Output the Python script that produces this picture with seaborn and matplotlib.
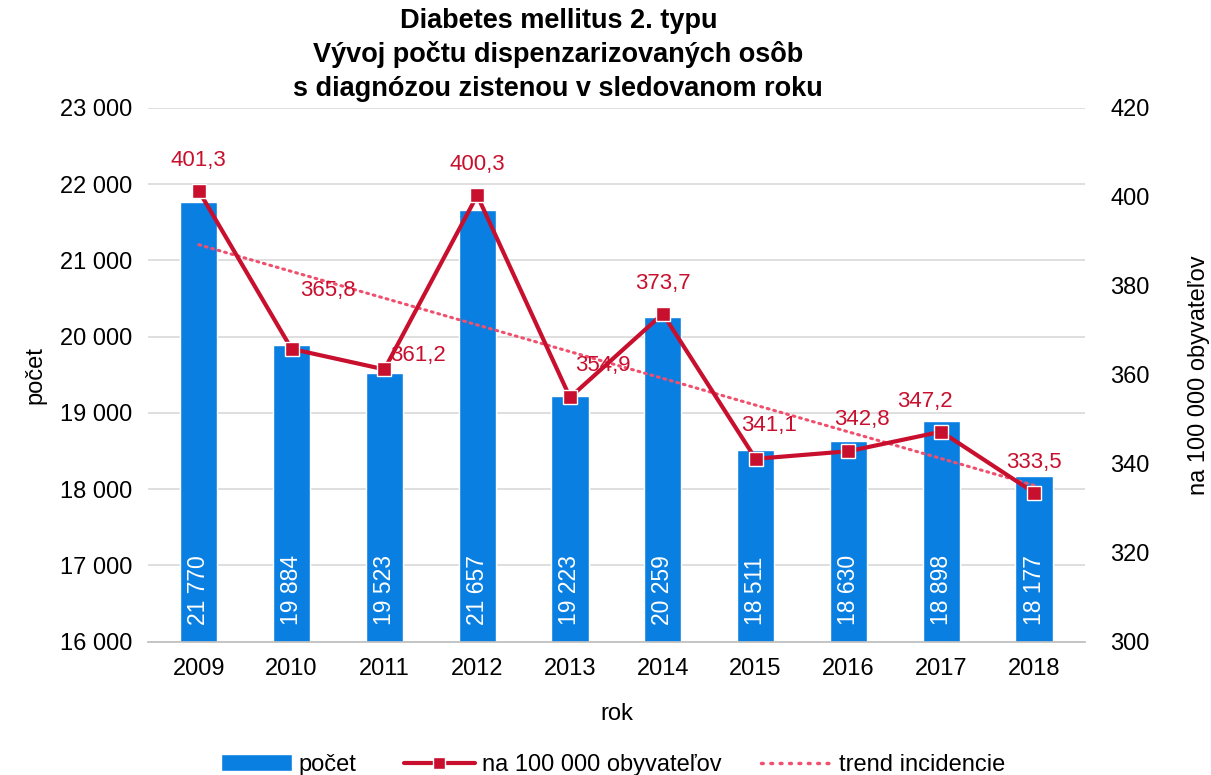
import numpy as np
import pandas as pd
import matplotlib
matplotlib.use("Agg")
import matplotlib.pyplot as plt
import seaborn as sns
from matplotlib.lines import Line2D
from matplotlib.patches import Patch

roky = ["2009", "2010", "2011", "2012", "2013", "2014", "2015", "2016", "2017", "2018"]
pocet = [21770, 19884, 19523, 21657, 19223, 20259, 18511, 18630, 18898, 18177]
incidencia = [401.3, 365.8, 361.2, 400.3, 354.9, 373.7, 341.1, 342.8, 347.2, 333.5]
# posun popiskov incidencie (body)
lbl_dx = [0, 26, 24, 0, 24, 0, 10, 10, -12, 0]
lbl_dy = [22, 42, 10, 22, 23, 22, 24, 23, 22, 22]

sns.set_theme(style="white")
plt.rcParams['font.family'] = ['Liberation Sans', 'DejaVu Sans']
plt.rcParams['text.color'] = 'black'
plt.rcParams['axes.labelcolor'] = 'black'
plt.rcParams['xtick.color'] = 'black'
plt.rcParams['ytick.color'] = 'black'

modra = "#0A7FE2"
cervena = "#C8102E"
ruzova = "#F0506E"
fs = 17

df = pd.DataFrame({"rok": roky, "pocet": pocet, "inc": incidencia})

fig, ax = plt.subplots(figsize=(12.11, 7.75), dpi=100)
fig.subplots_adjust(left=0.122, right=0.896, top=0.861, bottom=0.172)

sns.barplot(data=df, x="rok", y="pocet", color=modra, saturation=1, width=0.40, ax=ax, zorder=2)
ax.set_ylim(16000, 23000)
ax.set_yticks(range(16000, 23001, 1000))
ax.set_yticklabels([f"{v:,}".replace(",", " ") for v in range(16000, 23001, 1000)])
ax.yaxis.grid(True, color="#D9D9D9", lw=1.2, zorder=0)
ax.set_axisbelow(True)
for s in ["top", "right", "left"]:
    ax.spines[s].set_visible(False)
ax.spines["bottom"].set_color("#BFBFBF")
ax.tick_params(axis="both", labelsize=fs, length=0)
ax.tick_params(axis="y", pad=11)
ax.tick_params(axis="x", pad=12)
ax.set_xlabel("rok", fontsize=fs, labelpad=16)
ax.set_ylabel("počet", fontsize=fs, labelpad=10)

for i, v in enumerate(pocet):
    ax.annotate(f"{v:,}".replace(",", " "), (i, 16000), xytext=(0, 12), textcoords="offset points",
                rotation=90, ha="center", va="bottom", color="white", fontsize=16.5)

ax2 = ax.twinx()
x = np.arange(len(roky))
sns.lineplot(x=x, y=incidencia, ax=ax2, color=cervena, lw=3, marker="s", markersize=10,
             markeredgecolor="white", markeredgewidth=1, zorder=4)
k, q = np.polyfit(x, incidencia, 1)
ax2.plot(x, k * x + q, color=ruzova, lw=2.2, ls=(0, (0.6, 1.6)), dash_capstyle="round", zorder=3)
ax2.set_ylim(300, 420)
ax2.set_yticks(range(300, 421, 20))
for s in ["top", "right", "left", "bottom"]:
    ax2.spines[s].set_visible(False)
ax2.tick_params(axis="y", labelsize=fs, length=0, pad=18)
ax2.set_ylabel("na 100 000 obyvateľov", fontsize=fs, labelpad=28)
ax.set_xlim(-0.55, 9.55)

for i, v in enumerate(incidencia):
    ax2.annotate(f"{v:.1f}".replace(".", ","), (i, v), xytext=(lbl_dx[i], lbl_dy[i]), textcoords="offset points",
                 ha="center", va="center", color=cervena, fontsize=16)

fig.suptitle("Diabetes mellitus 2. typu\nVývoj počtu dispenzarizovaných osôb\ns diagnózou zistenou v sledovanom roku",
             fontsize=19.5, fontweight="bold", x=0.461, y=0.99, linespacing=1.36)

h1 = [Patch(facecolor=modra, label="počet"),
      Line2D([], [], color=cervena, lw=3, marker="s", markersize=9, markeredgecolor="white", label="na 100 000 obyvateľov")]
h2 = [Line2D([], [], color=ruzova, lw=2.5, ls=(0, (0.5, 2.2)), dash_capstyle="round", label="trend incidencie")]
leg1 = fig.legend(handles=h1, loc="center left", ncol=2, frameon=False, fontsize=fs,
                  bbox_to_anchor=(221 / 1211, 1 - 765 / 775), handlelength=3.0, columnspacing=2.0,
                  handletextpad=0.3, borderpad=0, borderaxespad=0)
leg2 = fig.legend(handles=h2, loc="center left", frameon=False, fontsize=fs,
                  bbox_to_anchor=(761 / 1211, 1 - 765 / 775), handlelength=3.0,
                  handletextpad=0.3, borderpad=0, borderaxespad=0)

fig.savefig("out.png", dpi=100)
